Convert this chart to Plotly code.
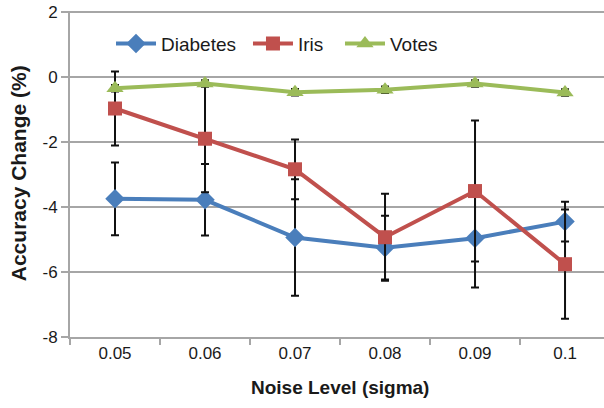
import plotly.graph_objects as go

noise = ["0.05", "0.06", "0.07", "0.08", "0.09", "0.1"]
diabetes = [-3.75, -3.78, -4.94, -5.25, -4.96, -4.45]
diabetes_err = [1.12, 1.1, 1.79, 0.98, 1.52, 0.61]
iris = [-0.97, -1.9, -2.84, -4.93, -3.51, -5.76]
iris_err = [1.14, 1.65, 0.92, 1.34, 2.17, 1.68]
votes = [-0.35, -0.2, -0.47, -0.39, -0.2, -0.48]
votes_err = [0.1, 0.1, 0.1, 0.1, 0.1, 0.1]

yticks = [2, 0, -2, -4, -6, -8]
ytext = ["2", "0", "-2", "-4", "-6", "-8"]

font = "Liberation Sans, Arial, sans-serif"

def eb(vals):
    return dict(type="data", array=vals, visible=True, color="#111111",
                thickness=2, width=4)

fig = go.Figure()
fig.add_trace(go.Scatter(x=noise, y=diabetes, name="Diabetes", mode="lines+markers",
                         line=dict(color="#4a7ebb", width=4),
                         marker=dict(symbol="diamond", size=15, color="#4a7ebb"),
                         error_y=eb(diabetes_err), legend="legend"))
fig.add_trace(go.Scatter(x=noise, y=iris, name="Iris", mode="lines+markers",
                         line=dict(color="#c0504d", width=4),
                         marker=dict(symbol="square", size=14, color="#c0504d"),
                         error_y=eb(iris_err), legend="legend2"))
fig.add_trace(go.Scatter(x=noise, y=votes, name="Votes", mode="lines+markers",
                         line=dict(color="#9bbb59", width=4),
                         marker=dict(symbol="triangle-up", size=15, color="#9bbb59"),
                         error_y=eb(votes_err), legend="legend3"))

def leg(x):
    return dict(orientation="h", x=x, y=0.9, xanchor="left", yanchor="middle",
                font=dict(size=19, color="#1a1a1a"), bgcolor="rgba(0,0,0,0)",
                itemwidth=40)

fig.update_layout(
    width=604, height=408,
    margin=dict(l=70, r=0, t=11, b=71, autoexpand=False),
    paper_bgcolor="white", plot_bgcolor="white",
    font=dict(family=font, size=17, color="#1a1a1a"),
    showlegend=True,
    legend=leg(0.0768), legend2=leg(0.3333), legend3=leg(0.5056),
    annotations=[
        dict(text="<b>Noise Level (sigma)</b>", xref="paper", yref="paper",
             x=0.506, y=-0.154, xanchor="center", yanchor="middle", showarrow=False,
             font=dict(size=19, color="#1a1a1a")),
        dict(text="<b>Accuracy Change (%)</b>", xref="paper", yref="paper",
             x=-0.097, y=0.503, xanchor="center", yanchor="middle", showarrow=False,
             textangle=-90, font=dict(size=21, color="#1a1a1a")),
    ],
    shapes=[dict(type="line", xref="paper", yref="y", x0=0, x1=1, y0=yticks[0], y1=yticks[0],
                 line=dict(color="#a6a6a6", width=2), layer="below")],
)
fig.update_xaxes(type="category", range=[-0.5, 5.433], tickson="boundaries",
                 ticks="outside", ticklen=6, tickwidth=2, tickcolor="#a6a6a6",
                 showline=True, linecolor="#a6a6a6", linewidth=2, showgrid=False,
                 tickfont=dict(size=17), automargin=False)
fig.update_yaxes(range=[-8, 2.03], tickvals=yticks, ticktext=ytext,
                 ticks="outside", ticklen=7, tickwidth=2, tickcolor="#a6a6a6",
                 showline=True, linecolor="#a6a6a6", linewidth=2,
                 showgrid=True, gridcolor="#a6a6a6", gridwidth=2, zeroline=False,
                 tickfont=dict(size=17), automargin=False)

fig.write_html("out.html", config={"displayModeBar": False},
               post_script="document.body.style.margin='0';")
